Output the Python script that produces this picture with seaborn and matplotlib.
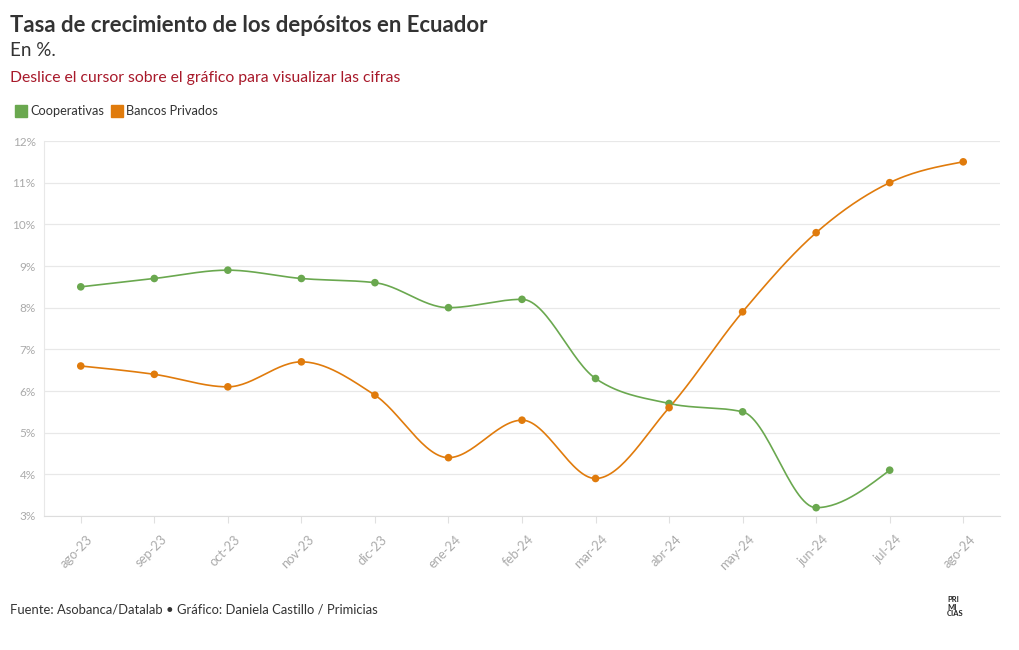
import matplotlib
matplotlib.use('Agg')
from matplotlib import pyplot as plt
from matplotlib.lines import Line2D
import matplotlib.transforms as mtransforms
import numpy as np
import pandas as pd
import seaborn as sns

meses = ['ago-23', 'sep-23', 'oct-23', 'nov-23', 'dic-23', 'ene-24', 'feb-24',
         'mar-24', 'abr-24', 'may-24', 'jun-24', 'jul-24', 'ago-24']
cooperativas = [8.5, 8.7, 8.9, 8.7, 8.6, 8.0, 8.2, 6.3, 5.7, 5.5, 3.2, 4.1, np.nan]
bancos = [6.6, 6.4, 6.1, 6.7, 5.9, 4.4, 5.3, 3.9, 5.6, 7.9, 9.8, 11.0, 11.5]
y_ticks = [3, 4, 5, 6, 7, 8, 9, 10, 11, 12]

VERDE = '#6aa84f'
NARANJA = '#e07b0c'


def monotone_x(y, n=30):
    # smooth curve through the points (same idea as d3.curveMonotoneX)
    y = np.asarray(y, dtype=float)
    y = y[~np.isnan(y)]
    x = np.arange(len(y), dtype=float)
    s = np.diff(y)
    t = np.zeros(len(y))
    for i in range(1, len(y) - 1):
        s0, s1 = s[i - 1], s[i]
        p = (s0 + s1) / 2
        t[i] = (np.sign(s0) + np.sign(s1)) * min(abs(s0), abs(s1), 0.5 * abs(p))
    t[0] = (3 * s[0] - t[1]) / 2 if len(y) > 2 else s[0]
    t[-1] = (3 * s[-1] - t[-2]) / 2 if len(y) > 2 else s[-1]
    xs, ys = [], []
    for i in range(len(y) - 1):
        u = np.linspace(0, 1, n, endpoint=(i == len(y) - 2))
        h00 = 2 * u**3 - 3 * u**2 + 1
        h10 = u**3 - 2 * u**2 + u
        h01 = -2 * u**3 + 3 * u**2
        h11 = u**3 - u**2
        xs.append(x[i] + u)
        ys.append(h00 * y[i] + h10 * t[i] + h01 * y[i + 1] + h11 * t[i + 1])
    return np.concatenate(xs), np.concatenate(ys)


df = pd.DataFrame({'mes': meses, 'pos': range(len(meses)),
                   'Cooperativas': cooperativas, 'Bancos Privados': bancos})
df_long = df.melt(id_vars=['mes', 'pos'], var_name='serie', value_name='valor').dropna()

curvas = []
for serie, vals in [('Cooperativas', cooperativas), ('Bancos Privados', bancos)]:
    xs, ys = monotone_x(vals)
    curvas.append(pd.DataFrame({'pos': xs, 'valor': ys, 'serie': serie}))
df_curvas = pd.concat(curvas)

sns.set_style('white')
plt.rcParams['font.family'] = ['Lato', 'DejaVu Sans']

fig = plt.figure(figsize=(10.2, 6.5), dpi=100)
ax = fig.add_axes([44 / 1020, 1 - 516 / 650, (1000 - 44) / 1020, (516 - 141) / 650])

paleta = {'Cooperativas': VERDE, 'Bancos Privados': NARANJA}
sns.lineplot(data=df_curvas, x='pos', y='valor', hue='serie', palette=paleta,
             linewidth=1.2, legend=False, ax=ax, sort=False, estimator=None)
sns.scatterplot(data=df_long, x='pos', y='valor', hue='serie', palette=paleta,
                s=30, edgecolor='none', legend=False, ax=ax, zorder=3)

ax.set_xlim(-0.5, len(meses) - 0.5)
ax.set_ylim(3, 12)
ax.set_yticks(y_ticks)
ax.set_yticklabels([f'{v}%' for v in y_ticks])
ax.set_xticks(range(len(meses)))
ax.set_xticklabels(meses, rotation=45, ha='right', rotation_mode='anchor')
ax.set_xlabel('')
ax.set_ylabel('')
ax.grid(axis='y', color='#e8e8e8', linewidth=0.9)
for side in ['top', 'right']:
    ax.spines[side].set_visible(False)
ax.spines['left'].set_color('#e8e8e8')
ax.spines['bottom'].set_color('#dddddd')
ax.tick_params(axis='y', colors='#aaaaaa', labelsize=8.5, length=0, pad=6)
ax.tick_params(axis='x', colors='#e0e0e0', labelcolor='#aaaaaa', labelsize=9.3,
               length=5, width=0.8, pad=3, bottom=True)

# nudge the rotated month labels right/down like the original
shift = mtransforms.ScaledTranslation(6 / 100, -6 / 100, fig.dpi_scale_trans)
for lbl in ax.get_xticklabels():
    lbl.set_transform(lbl.get_transform() + shift)

# header
fig.text(10 / 1020, 1 - 25 / 650, 'Tasa de crecimiento de los depósitos en Ecuador',
         fontsize=15.9, fontweight='bold', color='#333333', va='center', ha='left')
fig.text(10 / 1020, 1 - 50 / 650, 'En %.', fontsize=13.5, color='#333333',
         va='center', ha='left')
fig.text(10 / 1020, 1 - 78 / 650, 'Deslice el cursor sobre el gráfico para visualizar las cifras',
         fontsize=11.3, color='#a8192a', va='center', ha='left')

handles = [Line2D([], [], marker='s', linestyle='', markersize=8.5, color=VERDE),
           Line2D([], [], marker='s', linestyle='', markersize=8.5, color=NARANJA)]
fig.legend(handles, ['Cooperativas', 'Bancos Privados'], loc='center left',
           bbox_to_anchor=(4 / 1020, 1 - 111 / 650), ncol=2, frameon=False,
           fontsize=9.2, handlelength=0.8, handletextpad=0.35, columnspacing=0.6,
           labelcolor='#333333')

# footer
fig.text(10 / 1020, 1 - 610 / 650,
         'Fuente: Asobanca/Datalab • Gráfico: Daniela Castillo / Primicias',
         fontsize=9.4, color='#333333', va='center', ha='left')
fig.text(947 / 1020, 1 - 607 / 650, 'PRI\nMI\nCIAS', fontsize=5.5, fontweight='bold',
         color='#222222', va='center', ha='left', linespacing=1.0)

fig.savefig('out.png', dpi=100, facecolor='white')
